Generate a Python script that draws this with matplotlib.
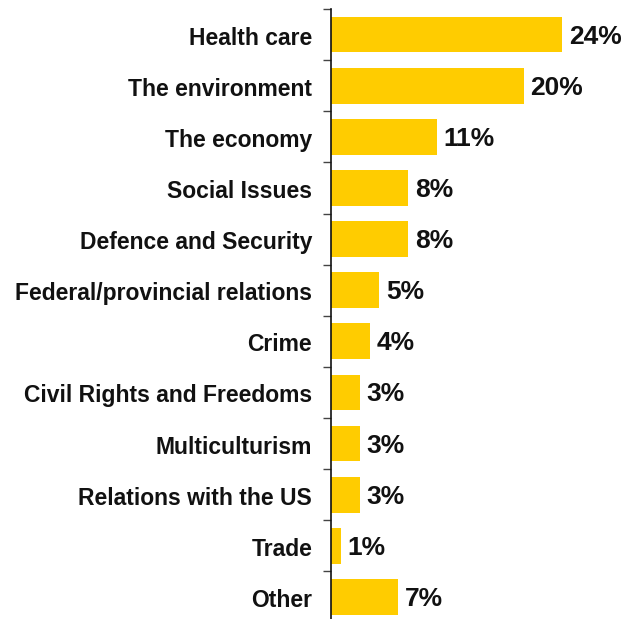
import numpy as np
import matplotlib.pyplot as plt

# issues ranked by share of respondents
issues = ["Health care", "The environment", "The economy", "Social Issues",
          "Defence and Security", "Federal/provincial relations", "Crime",
          "Civil Rights and Freedoms", "Multiculturism", "Relations with the US",
          "Trade", "Other"]
shares = [24, 20, 11, 8, 8, 5, 4, 3, 3, 3, 1, 7]

plt.rcParams['font.family'] = ['Liberation Sans', 'DejaVu Sans']

fig = plt.figure(figsize=(6.22, 6.19), dpi=100)
ax = fig.add_axes([331/622, -3.5/619, 1 - 331/622, 613.5/619])

y = np.arange(len(issues))
ax.barh(y, shares, height=0.7, color="#FFCC00")
for yi, v in zip(y, shares):
    ax.text(v + 0.7, yi + 0.04, f"{v}%", va="center", ha="left",
            fontsize=19, fontweight="bold", color="#111111")

ax.set_xlim(0, 30.2)
ax.set_ylim(len(issues) - 0.5, -0.5)
ax.set_yticks(y + 0.02)
ax.set_yticklabels(issues, fontsize=16.5, fontweight="bold", color="#111111")
ax.set_yticks(np.arange(len(issues) + 1) - 0.5, minor=True)
ax.tick_params(axis="y", which="major", length=0, pad=13.5)
ax.tick_params(axis="y", which="minor", length=5.5, width=1, color="#444444")
ax.set_xticks([])
for s in ["top", "right", "bottom"]:
    ax.spines[s].set_visible(False)
ax.spines["left"].set_linewidth(1.2)
ax.spines["left"].set_color("#111111")

fig.savefig("out.png", dpi=100)
